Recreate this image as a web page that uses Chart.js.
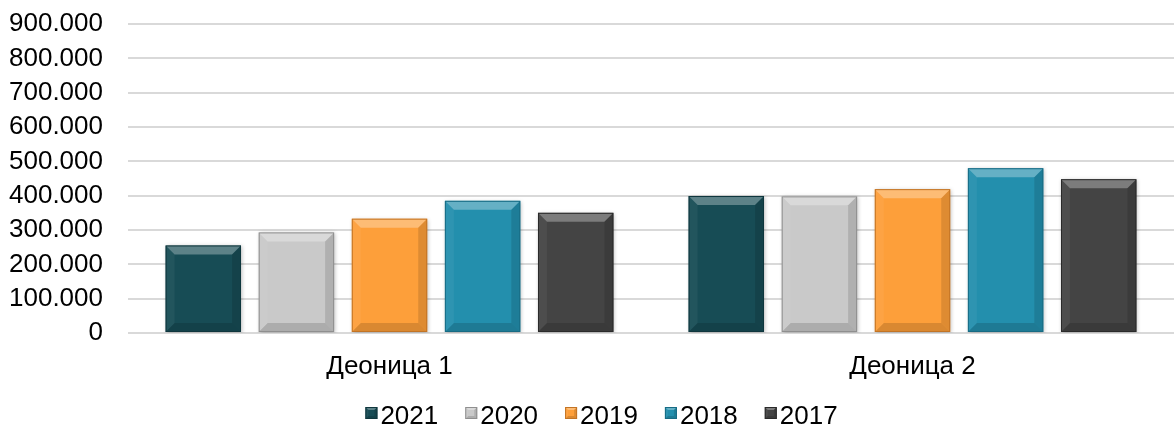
<!DOCTYPE html>
<html lang="sr">
<head>
    <meta charset="UTF-8">
    <script src="https://cdn.jsdelivr.net/npm/chart.js"></script>
    <title>Деонице</title>
    <style>
        html, body { margin: 0; padding: 0; background: #fff; }
        .chart-container { width: 1175px; height: 430px; position: relative; }
    </style>
</head>
<body>
    <div class="chart-container">
        <canvas id="myChart"></canvas>
    </div>

    <script>
        // data
        const categories = ['Деоница 1', 'Деоница 2'];
        const years = ['2021', '2020', '2019', '2018', '2017'];
        const values2021 = [255000, 399000];
        const values2020 = [293000, 398000];
        const values2019 = [333000, 419000];
        const values2018 = [385000, 480000];
        const values2017 = [350000, 448000];
        const yTicks = [0, 100000, 200000, 300000, 400000, 500000, 600000, 700000, 800000, 900000];

        const colors = ['#174c55', '#c9c9c9', '#fd9f3a', '#238fad', '#444444'];
        const borders = ['#0f363d', '#8f8f8f', '#c27425', '#176b84', '#2a2a2a'];
        const FONT = "'Liberation Sans', Arial, sans-serif";

        function fmt(v) {
            return String(v).replace(/\B(?=(\d{3})+(?!\d))/g, '.');
        }

        // bevel look on each bar, like the office style
        function bevel(ctx, l, t, r, b, size) {
            const s = Math.min(size, (r - l) / 2, (b - t) / 2);
            const poly = (pts, fill) => {
                ctx.beginPath();
                ctx.moveTo(pts[0][0], pts[0][1]);
                for (let i = 1; i < pts.length; i++) ctx.lineTo(pts[i][0], pts[i][1]);
                ctx.closePath();
                ctx.fillStyle = fill;
                ctx.fill();
            };
            poly([[l, t], [r, t], [r - s, t + s], [l + s, t + s]], 'rgba(255,255,255,0.3)');
            poly([[l, b], [r, b], [r - s, b - s], [l + s, b - s]], 'rgba(0,0,0,0.14)');
            poly([[l, t], [l + s, t + s], [l + s, b - s], [l, b]], 'rgba(255,255,255,0.05)');
            poly([[r, t], [r - s, t + s], [r - s, b - s], [r, b]], 'rgba(0,0,0,0.12)');
        }

        const bevelPlugin = {
            id: 'bevel',
            beforeDatasetsDraw(chart) {
                const ctx = chart.ctx;
                ctx.save();
                ctx.shadowColor = 'rgba(0,0,0,0.25)';
                ctx.shadowBlur = 4;
                ctx.shadowOffsetX = 1;
                ctx.shadowOffsetY = 1;
            },
            afterDatasetsDraw(chart) {
                const ctx = chart.ctx;
                ctx.restore();
                chart.data.datasets.forEach((ds, i) => {
                    chart.getDatasetMeta(i).data.forEach(bar => {
                        const l = bar.x - bar.width / 2, r = bar.x + bar.width / 2;
                        bevel(ctx, l, bar.y, r, bar.base, 9);
                        ctx.strokeStyle = borders[i];
                        ctx.lineWidth = 1;
                        ctx.strokeRect(l + 0.5, bar.y + 0.5, r - l - 1, bar.base - bar.y - 1);
                    });
                });
            }
        };

        // legend drawn at the bottom, tight gap between box and text
        const legendPlugin = {
            id: 'bottomLegend',
            afterDraw(chart) {
                const ctx = chart.ctx;
                ctx.save();
                ctx.font = '26px ' + FONT;
                ctx.textBaseline = 'middle';
                const box = 12, gap = 3, spacing = 27;
                const widths = years.map(y => box + gap + ctx.measureText(y).width);
                const total = widths.reduce((a, w) => a + w, 0) + spacing * (years.length - 1);
                let x = (chart.width - total) / 2 + 14;
                const cy = 417;
                years.forEach((y, i) => {
                    const t = 413 - box / 2;
                    ctx.fillStyle = colors[i];
                    ctx.fillRect(x, t, box, box);
                    bevel(ctx, x, t, x + box, t + box, 3);
                    ctx.strokeStyle = borders[i];
                    ctx.lineWidth = 1;
                    ctx.strokeRect(x + 0.5, t + 0.5, box - 1, box - 1);
                    ctx.fillStyle = '#000';
                    ctx.fillText(y, x + box + gap, cy);
                    x += widths[i] + spacing;
                });
                ctx.restore();
            }
        };

        const seriesValues = [values2021, values2020, values2019, values2018, values2017];

        const ctx = document.getElementById('myChart').getContext('2d');
        new Chart(ctx, {
            type: 'bar',
            data: {
                labels: categories,
                datasets: years.map((y, i) => ({
                    label: y,
                    data: seriesValues[i],
                    backgroundColor: colors[i],
                    borderWidth: 0,
                    barPercentage: 0.81,
                    categoryPercentage: 0.89
                }))
            },
            options: {
                responsive: true,
                maintainAspectRatio: false,
                animation: false,
                layout: { padding: { left: 9, right: 1, top: 24, bottom: 48 } },
                plugins: {
                    legend: { display: false },
                    tooltip: { enabled: false }
                },
                scales: {
                    x: {
                        grid: { display: false, drawTicks: false },
                        border: { display: false },
                        afterFit(scale) {
                            scale.height = 49;
                            scale.paddingLeft = 0;
                            scale.paddingRight = 0;
                        },
                        ticks: {
                            color: '#000',
                            padding: 18,
                            font: { family: FONT, size: 26 }
                        }
                    },
                    y: {
                        min: 0,
                        max: 900000,
                        afterBuildTicks(scale) {
                            scale.ticks = yTicks.map(v => ({ value: v }));
                        },
                        afterFit(scale) {
                            scale.width = 119;
                            scale.paddingTop = 0;
                            scale.paddingBottom = 0;
                        },
                        grid: { color: '#d9d9d9', lineWidth: 2, drawTicks: false },
                        border: { display: false },
                        ticks: {
                            autoSkip: false,
                            color: '#000',
                            padding: 25,
                            font: { family: FONT, size: 26 },
                            callback: v => fmt(v)
                        }
                    }
                }
            },
            plugins: [bevelPlugin, legendPlugin]
        });
    </script>
</body>
</html>
